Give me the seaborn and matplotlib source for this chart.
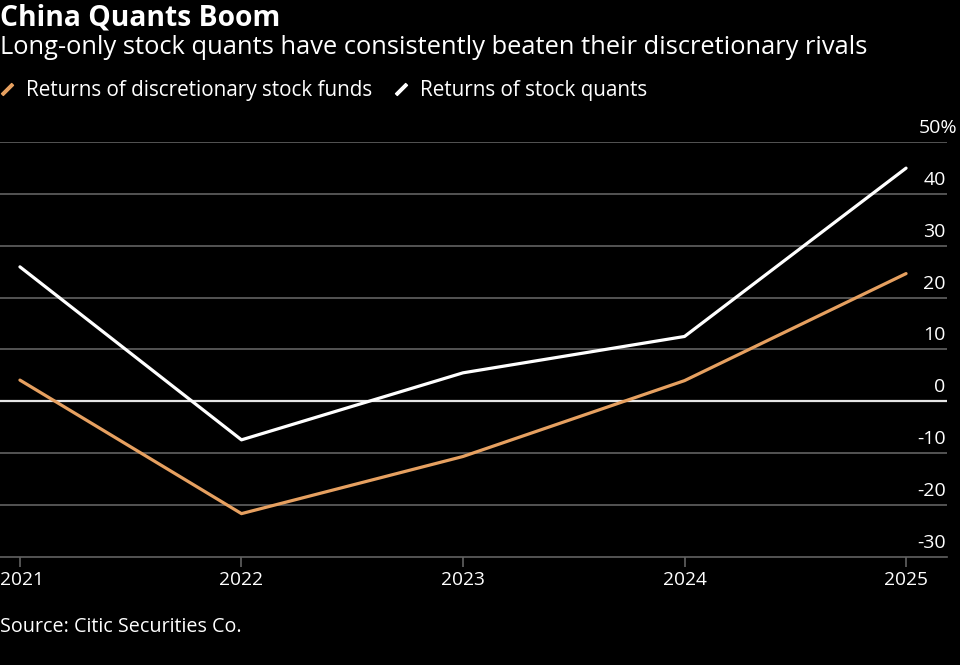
import matplotlib
matplotlib.use("Agg")
import matplotlib.pyplot as plt
import matplotlib.transforms as mtransforms
from matplotlib.lines import Line2D
import pandas as pd
import seaborn as sns

years = [2021, 2022, 2023, 2024, 2025]
discretionary = [4.1, -21.6, -10.6, 4.0, 24.6]
quants = [25.9, -7.4, 5.5, 12.5, 44.9]
series_names = ["Returns of discretionary stock funds", "Returns of stock quants"]
series_colors = ["#e6a060", "#ffffff"]
yticks = [-30, -20, -10, 0, 10, 20, 30, 40, 50]
ytick_labels = ["-30", "-20", "-10", "0", "10", "20", "30", "40", "50%"]

BG = "#000000"
GRID = "#626262"
FONT = ["Open Sans", "DejaVu Sans"]

sns.set_theme(style="dark")
plt.rcParams["font.family"] = FONT

df = pd.DataFrame({
    "year": years * 2,
    "value": discretionary + quants,
    "series": [series_names[0]] * len(years) + [series_names[1]] * len(years),
})

fig = plt.figure(figsize=(9.6, 6.65), dpi=100, facecolor=BG)
ax = fig.add_axes([0.0, 0.162, 0.9865, 0.625])
ax.set_facecolor(BG)

sns.lineplot(data=df, x="year", y="value", hue="series", hue_order=series_names,
             palette=series_colors, linewidth=2.3, legend=False, ax=ax, zorder=3)

ax.set_xlim(2020.91, 2025.185)
ax.set_ylim(-30, 50)
ax.set_xticks(years, [str(y) for y in years])
ax.set_yticks(yticks, ytick_labels)
ax.set_xlabel("")
ax.set_ylabel("")

ax.grid(False)
for v in yticks[1:]:
    ax.axhline(v, color="#e6e6e6" if v == 0 else GRID, linewidth=1.6 if v == 0 else 1.2, zorder=1)

for side in ["top", "right", "left"]:
    ax.spines[side].set_visible(False)
ax.spines["bottom"].set_color(GRID)
ax.spines["bottom"].set_linewidth(1.2)

ax.tick_params(axis="x", bottom=True, length=7, width=1.2, color=GRID,
               labelsize=13.8, pad=3, labelcolor="white")
ax.tick_params(axis="y", left=False, labelleft=False, right=True, labelright=True,
               length=0, labelsize=14, pad=-1, labelcolor="white")

up = mtransforms.ScaledTranslation(0, 16 / 100, fig.dpi_scale_trans)
for i, tick in enumerate(ax.yaxis.get_major_ticks()):
    lab = tick.label2
    lab.set_horizontalalignment("right")
    off = up
    if i == len(yticks) - 1:
        off = mtransforms.ScaledTranslation(12 / 100, 16 / 100, fig.dpi_scale_trans)
    lab.set_transform(lab.get_transform() + off)

# keep the first year label inside the figure, as in the original
first = ax.xaxis.get_major_ticks()[0].label1
first.set_transform(first.get_transform()
                    + mtransforms.ScaledTranslation(2 / 100, 0, fig.dpi_scale_trans))

fig.text(0.0, 0.973, "China Quants Boom", color="white", fontsize=20.3, fontweight="bold",
         va="center", ha="left")
fig.text(0.0, 0.929, "Long-only stock quants have consistently beaten their discretionary rivals",
         color="white", fontsize=18.4, va="center", ha="left")
fig.text(0.0, 0.057, "Source: Citic Securities Co.", color="white", fontsize=14.2,
         va="center", ha="left")

handles = [Line2D([], [], linestyle="none", marker=(2, 2, -45), markersize=11,
                  markeredgewidth=2.6, color=c) for c in series_colors]
leg = ax.legend(handles, series_names, loc="center left", bbox_to_anchor=(-0.001, 0.864),
                bbox_transform=fig.transFigure, ncol=2, frameon=False, fontsize=14.9,
                handlelength=0.8, handletextpad=0.5, columnspacing=1.0, borderaxespad=0,
                borderpad=0)
for t in leg.get_texts():
    t.set_color("white")

fig.savefig("out.png", dpi=100, facecolor=BG)
